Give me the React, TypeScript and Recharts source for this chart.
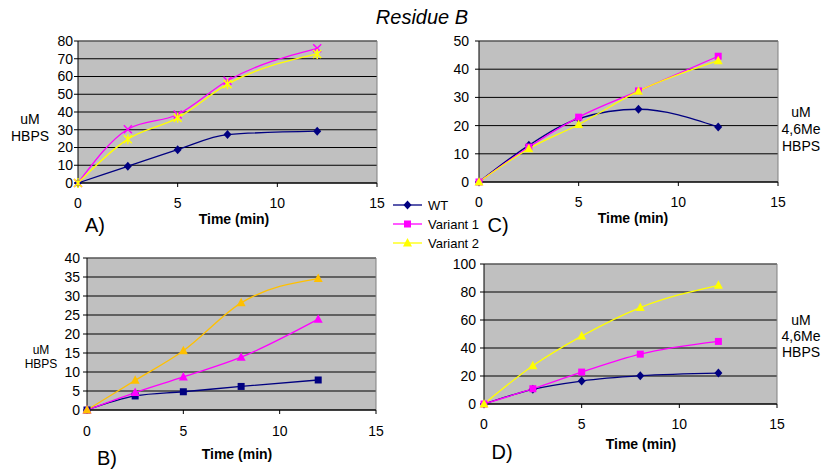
import { LineChart, Line, XAxis, YAxis, CartesianGrid, ReferenceLine } from 'recharts'

const FONT = '"Liberation Sans", Arial, sans-serif'
const NAMES = ['WT', 'Variant 1', 'Variant 2']
const timeTicks = [0, 5, 10, 15]

// A) uM HBPS
const timesA = [0, 2.5, 5, 7.5, 12]
const wtA = [0, 9.4, 18.8, 27.3, 29.2]
const v1A = [0, 30.3, 38.6, 57.6, 75.9]
const v2A = [0, 24.7, 36.7, 55.7, 72.7]
const ticksA = [0, 10, 20, 30, 40, 50, 60, 70, 80]

// B) uM HBPS
const timesB = [0, 2.5, 5, 8, 12]
const wtB = [0, 3.7, 4.8, 6.2, 7.9]
const v1B = [0, 4.6, 8.7, 13.9, 23.9]
const v2B = [0, 7.8, 15.6, 28.2, 34.6]
const ticksB = [0, 5, 10, 15, 20, 25, 30, 35, 40]

// C) uM 4,6Me HBPS
const timesC = [0, 2.5, 5, 8, 12]
const wtC = [0, 13.0, 22.5, 25.8, 19.5]
const v1C = [0, 12.4, 23.0, 32.3, 44.6]
const v2C = [0, 11.8, 20.4, 32.2, 43.0]
const ticksC = [0, 10, 20, 30, 40, 50]

// D) uM 4,6Me HBPS
const timesD = [0, 2.5, 5, 8, 12]
const wtD = [0, 10.5, 16.4, 20.2, 22.1]
const v1D = [0, 10.9, 22.8, 35.6, 44.7]
const v2D = [0, 27.3, 48.5, 68.9, 84.8]
const ticksD = [0, 20, 40, 60, 80, 100]

const rows = (t: number[], wt: number[], v1: number[], v2: number[]) =>
  t.map((x, i) => ({ t: x, wt: wt[i], v1: v1[i], v2: v2[i] }))

type Shape = 'diamond' | 'square' | 'triangle' | 'x' | 'star'

function Marker({ shape, cx, cy, color }: { shape: Shape; cx: number; cy: number; color: string }) {
  if (cx == null || cy == null) return null
  switch (shape) {
    case 'diamond':
      return <path d={`M${cx},${cy - 4.5}L${cx + 4},${cy}L${cx},${cy + 4.5}L${cx - 4},${cy}Z`} fill={color} />
    case 'square':
      return <rect x={cx - 3.5} y={cy - 3.5} width={7} height={7} fill={color} />
    case 'triangle':
      return <path d={`M${cx},${cy - 5}L${cx + 4.5},${cy + 3.5}L${cx - 4.5},${cy + 3.5}Z`} fill={color} />
    case 'x':
      return (
        <path d={`M${cx - 4},${cy - 4}L${cx + 4},${cy + 4}M${cx - 4},${cy + 4}L${cx + 4},${cy - 4}`} stroke={color} strokeWidth={1.5} />
      )
    case 'star':
      return (
        <path
          d={`M${cx - 4},${cy - 4}L${cx + 4},${cy + 4}M${cx - 4},${cy + 4}L${cx + 4},${cy - 4}M${cx},${cy - 5}L${cx},${cy + 5}`}
          stroke={color}
          strokeWidth={1.5}
        />
      )
  }
  return null
}

interface Series {
  key: string
  color: string
  shape: Shape
}

interface PanelProps {
  data: { t: number; wt: number; v1: number; v2: number }[]
  yTicks: number[]
  series: Series[]
  left: number
  top: number
  width: number
  height: number
  mTop: number
  mRight: number
  yWidth: number
  xHeight: number
  yTickGap: number
  xTickGap: number
}

function Panel(p: PanelProps) {
  const yMax = p.yTicks[p.yTicks.length - 1]
  const tick = { fontSize: 14, fill: '#000', fontFamily: FONT }
  return (
    <div style={{ position: 'absolute', left: p.left, top: p.top }}>
      <LineChart
        width={p.width}
        height={p.height}
        data={p.data}
        margin={{ top: p.mTop, right: p.mRight, bottom: 0, left: 0 }}
      >
        <CartesianGrid vertical={false} stroke="#000" fill="#C0C0C0" fillOpacity={1} />
        <XAxis
          dataKey="t"
          type="number"
          domain={[0, 15]}
          ticks={timeTicks}
          interval={0}
          height={p.xHeight}
          tick={tick}
          tickSize={4}
          tickMargin={p.xTickGap}
          axisLine={{ stroke: '#000' }}
          tickLine={{ stroke: '#000' }}
        />
        <YAxis
          type="number"
          domain={[0, yMax]}
          ticks={p.yTicks}
          interval={0}
          width={p.yWidth}
          tick={tick}
          tickSize={4}
          tickMargin={p.yTickGap}
          axisLine={{ stroke: '#000' }}
          tickLine={{ stroke: '#000' }}
        />
        <ReferenceLine y={yMax} stroke="#808080" />
        <ReferenceLine x={15} stroke="#808080" />
        {p.series.map((s) => (
          <Line
            key={s.key}
            type="monotone"
            dataKey={s.key}
            stroke={s.color}
            strokeWidth={1.3}
            isAnimationActive={false}
            dot={(d: any) => <Marker key={`${s.key}-${d.index}`} shape={s.shape} cx={d.cx} cy={d.cy} color={s.color} />}
            activeDot={false}
          />
        ))}
      </LineChart>
    </div>
  )
}

function Text({ x, y, children, size = 14, bold = false, italic = false, lh }: any) {
  return (
    <div
      style={{
        position: 'absolute',
        left: x,
        top: y,
        transform: 'translate(-50%, -50%)',
        fontFamily: FONT,
        fontSize: size,
        fontWeight: bold ? 'bold' : 'normal',
        fontStyle: italic ? 'italic' : 'normal',
        lineHeight: lh ? `${lh}px` : 'normal',
        textAlign: 'center',
        whiteSpace: 'pre',
        color: '#000',
      }}
    >
      {children}
    </div>
  )
}

const NAVY = '#000080'
const MAGENTA = '#FF00FF'
const YELLOW = '#FFFF00'
const ORANGE = '#FFC000'

const legendShapes: Shape[] = ['diamond', 'square', 'triangle']
const legendColors = [NAVY, MAGENTA, YELLOW]

export default function App() {
  return (
    <div style={{ position: 'absolute', left: 0, top: 0, width: 824, height: 471, background: '#fff', overflow: 'hidden' }}>
      <Panel
        data={rows(timesA, wtA, v1A, v2A)}
        yTicks={ticksA}
        series={[
          { key: 'wt', color: NAVY, shape: 'diamond' },
          { key: 'v1', color: MAGENTA, shape: 'x' },
          { key: 'v2', color: YELLOW, shape: 'star' },
        ]}
        left={0}
        top={0}
        width={400}
        height={240}
        mTop={41}
        mRight={23}
        yWidth={78}
        xHeight={57}
        yTickGap={1}
        xTickGap={11}
      />
      <Panel
        data={rows(timesC, wtC, v1C, v2C)}
        yTicks={ticksC}
        series={[
          { key: 'wt', color: NAVY, shape: 'diamond' },
          { key: 'v1', color: MAGENTA, shape: 'square' },
          { key: 'v2', color: YELLOW, shape: 'triangle' },
        ]}
        left={400}
        top={0}
        width={424}
        height={240}
        mTop={41}
        mRight={46}
        yWidth={79}
        xHeight={58}
        yTickGap={6}
        xTickGap={11}
      />
      <Panel
        data={rows(timesB, wtB, v1B, v2B)}
        yTicks={ticksB}
        series={[
          { key: 'wt', color: NAVY, shape: 'square' },
          { key: 'v1', color: MAGENTA, shape: 'triangle' },
          { key: 'v2', color: ORANGE, shape: 'triangle' },
        ]}
        left={0}
        top={240}
        width={400}
        height={231}
        mTop={18}
        mRight={24}
        yWidth={87}
        xHeight={61}
        yTickGap={3}
        xTickGap={12}
      />
      <Panel
        data={rows(timesD, wtD, v1D, v2D)}
        yTicks={ticksD}
        series={[
          { key: 'wt', color: NAVY, shape: 'diamond' },
          { key: 'v1', color: MAGENTA, shape: 'square' },
          { key: 'v2', color: YELLOW, shape: 'triangle' },
        ]}
        left={400}
        top={240}
        width={424}
        height={231}
        mTop={24}
        mRight={47}
        yWidth={84}
        xHeight={67}
        yTickGap={4}
        xTickGap={11}
      />

      <Text x={422} y={17} size={20} italic>Residue B</Text>

      <Text x={30} y={128} lh={17}>{'uM\nHBPS'}</Text>
      <Text x={234} y={219} bold>Time (min)</Text>
      <Text x={95} y={225} size={20}>A)</Text>

      <Text x={801} y={129} lh={17}>{'uM\n4,6Me\nHBPS'}</Text>
      <Text x={633} y={218} bold>Time (min)</Text>
      <Text x={498} y={225} size={20}>C)</Text>

      <Text x={41} y={357} size={12} lh={14}>{'uM\nHBPS'}</Text>
      <Text x={237} y={454} bold>Time (min)</Text>
      <Text x={107} y={458} size={20}>B)</Text>

      <Text x={801} y={336} lh={16}>{'uM\n4,6Me\nHBPS'}</Text>
      <Text x={641} y={444} bold>Time (min)</Text>
      <Text x={502} y={452} size={20}>D)</Text>

      <svg style={{ position: 'absolute', left: 388, top: 192 }} width={100} height={62}>
        {NAMES.map((n, i) => {
          const y = 13 + i * 19
          return (
            <g key={n}>
              <line x1={5} x2={34} y1={y} y2={y} stroke={legendColors[i]} strokeWidth={1.3} />
              <Marker shape={legendShapes[i]} cx={19.5} cy={y} color={legendColors[i]} />
              <text x={40} y={y} dy="0.35em" fontSize={13} fontFamily={FONT} fill="#000">
                {n}
              </text>
            </g>
          )
        })}
      </svg>
    </div>
  )
}
